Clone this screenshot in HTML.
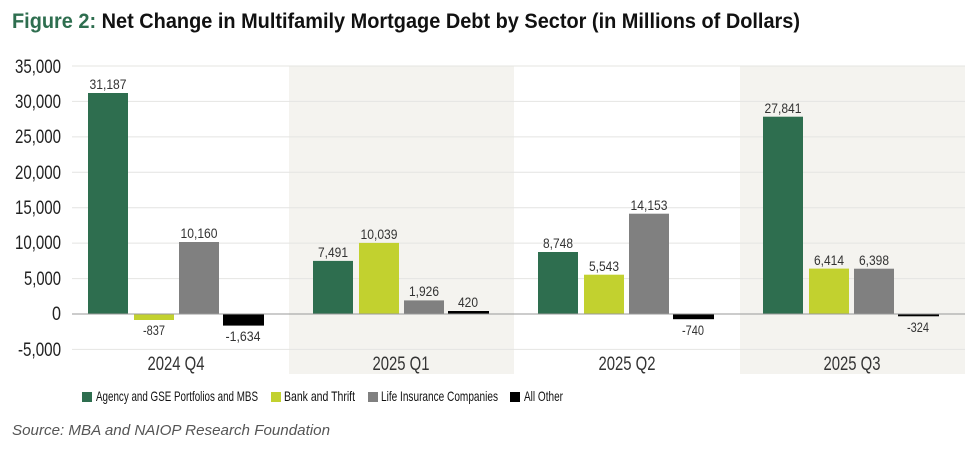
<!DOCTYPE html>
<html><head><meta charset="utf-8"><style>
html,body{margin:0;padding:0;background:#fff;}
svg{display:block;font-family:"Liberation Sans Narrow","Liberation Sans",sans-serif;}
</style></head><body>
<svg width="965" height="450" viewBox="0 0 965 450" xmlns="http://www.w3.org/2000/svg">
<text x="12" y="28" font-size="21" font-weight="bold" fill="#111" textLength="788" lengthAdjust="spacingAndGlyphs"><tspan fill="#2e6e4f">Figure 2:</tspan> Net Change in Multifamily Mortgage Debt by Sector (in Millions of Dollars)</text>
<rect x="289" y="66" width="225" height="308" fill="#f4f3ef"/>
<rect x="740" y="66" width="225" height="308" fill="#f4f3ef"/>
<g stroke="#e4e4e2" stroke-width="1">
<line x1="72" x2="965" y1="66" y2="66"/><line x1="72" x2="965" y1="101.4" y2="101.4"/><line x1="72" x2="965" y1="136.9" y2="136.9"/><line x1="72" x2="965" y1="172.3" y2="172.3"/><line x1="72" x2="965" y1="207.7" y2="207.7"/><line x1="72" x2="965" y1="243.1" y2="243.1"/><line x1="72" x2="965" y1="278.6" y2="278.6"/><line x1="72" x2="965" y1="349.4" y2="349.4"/>
</g>
<g font-size="19" fill="#222" text-anchor="end" lengthAdjust="spacingAndGlyphs">
<text x="61" y="73" textLength="46" lengthAdjust="spacingAndGlyphs">35,000</text>
<text x="61" y="108" textLength="46" lengthAdjust="spacingAndGlyphs">30,000</text>
<text x="61" y="143" textLength="46" lengthAdjust="spacingAndGlyphs">25,000</text>
<text x="61" y="179" textLength="46" lengthAdjust="spacingAndGlyphs">20,000</text>
<text x="61" y="214" textLength="46" lengthAdjust="spacingAndGlyphs">15,000</text>
<text x="61" y="249" textLength="46" lengthAdjust="spacingAndGlyphs">10,000</text>
<text x="61" y="285" textLength="37" lengthAdjust="spacingAndGlyphs">5,000</text>
<text x="61" y="320" textLength="9" lengthAdjust="spacingAndGlyphs">0</text>
<text x="61" y="356" textLength="43" lengthAdjust="spacingAndGlyphs">-5,000</text>
</g>
<g>
<rect x="88" y="93" width="40" height="221" fill="#2e6e4f"/>
<rect x="134" y="314" width="40" height="6" fill="#c2d12f"/>
<rect x="179" y="242" width="40" height="72" fill="#808080"/>
<rect x="223" y="314" width="41" height="11.6" fill="#000"/>
<rect x="313" y="260.9" width="40" height="53.1" fill="#2e6e4f"/>
<rect x="359" y="242.9" width="40" height="71.1" fill="#c2d12f"/>
<rect x="404" y="300.4" width="40" height="13.6" fill="#808080"/>
<rect x="448" y="311" width="41" height="3" fill="#000"/>
<rect x="538" y="252" width="40" height="62" fill="#2e6e4f"/>
<rect x="584" y="274.7" width="40" height="39.3" fill="#c2d12f"/>
<rect x="629" y="213.7" width="40" height="100.3" fill="#808080"/>
<rect x="673" y="314" width="41" height="5.2" fill="#000"/>
<rect x="763" y="116.7" width="40" height="197.3" fill="#2e6e4f"/>
<rect x="809" y="268.6" width="40" height="45.4" fill="#c2d12f"/>
<rect x="854" y="268.7" width="40" height="45.3" fill="#808080"/>
<rect x="898" y="314" width="41" height="2.3" fill="#000"/>
</g>
<line x1="72" x2="965" y1="314" y2="314" stroke="#999" stroke-width="1"/>
<g font-size="14" fill="#333" text-anchor="middle">
<text x="108" y="89" textLength="37" lengthAdjust="spacingAndGlyphs">31,187</text>
<text x="154" y="335" textLength="22" lengthAdjust="spacingAndGlyphs">-837</text>
<text x="199" y="238" textLength="37" lengthAdjust="spacingAndGlyphs">10,160</text>
<text x="243" y="341" textLength="35" lengthAdjust="spacingAndGlyphs">-1,634</text>
<text x="333" y="257" textLength="30" lengthAdjust="spacingAndGlyphs">7,491</text>
<text x="379" y="239" textLength="37" lengthAdjust="spacingAndGlyphs">10,039</text>
<text x="424" y="296" textLength="30" lengthAdjust="spacingAndGlyphs">1,926</text>
<text x="468" y="307" textLength="20" lengthAdjust="spacingAndGlyphs">420</text>
<text x="558" y="248" textLength="30" lengthAdjust="spacingAndGlyphs">8,748</text>
<text x="604" y="271" textLength="30" lengthAdjust="spacingAndGlyphs">5,543</text>
<text x="649" y="210" textLength="37" lengthAdjust="spacingAndGlyphs">14,153</text>
<text x="693" y="335" textLength="22" lengthAdjust="spacingAndGlyphs">-740</text>
<text x="783" y="113" textLength="37" lengthAdjust="spacingAndGlyphs">27,841</text>
<text x="829" y="265" textLength="30" lengthAdjust="spacingAndGlyphs">6,414</text>
<text x="874" y="265" textLength="30" lengthAdjust="spacingAndGlyphs">6,398</text>
<text x="918" y="332" textLength="22" lengthAdjust="spacingAndGlyphs">-324</text>
</g>
<g font-size="19" fill="#333" text-anchor="middle">
<text x="176" y="370" textLength="57" lengthAdjust="spacingAndGlyphs">2024 Q4</text>
<text x="401" y="370" textLength="57" lengthAdjust="spacingAndGlyphs">2025 Q1</text>
<text x="627" y="370" textLength="57" lengthAdjust="spacingAndGlyphs">2025 Q2</text>
<text x="852" y="370" textLength="57" lengthAdjust="spacingAndGlyphs">2025 Q3</text>
</g>
<g font-size="14" fill="#111">
<rect x="82" y="392" width="10" height="10" fill="#2e6e4f"/><text x="96" y="401" textLength="162" lengthAdjust="spacingAndGlyphs">Agency and GSE Portfolios and MBS</text>
<rect x="271" y="392" width="10" height="10" fill="#c2d12f"/><text x="284" y="401" textLength="71" lengthAdjust="spacingAndGlyphs">Bank and Thrift</text>
<rect x="368" y="392" width="10" height="10" fill="#808080"/><text x="381" y="401" textLength="117" lengthAdjust="spacingAndGlyphs">Life Insurance Companies</text>
<rect x="510" y="392" width="10" height="10" fill="#000"/><text x="524" y="401" textLength="39" lengthAdjust="spacingAndGlyphs">All Other</text>
</g>
<text x="12" y="435" font-size="15" font-style="italic" fill="#555" font-family="Liberation Sans, sans-serif" textLength="318" lengthAdjust="spacingAndGlyphs">Source: MBA and NAIOP Research Foundation</text>
</svg>
</body></html>
